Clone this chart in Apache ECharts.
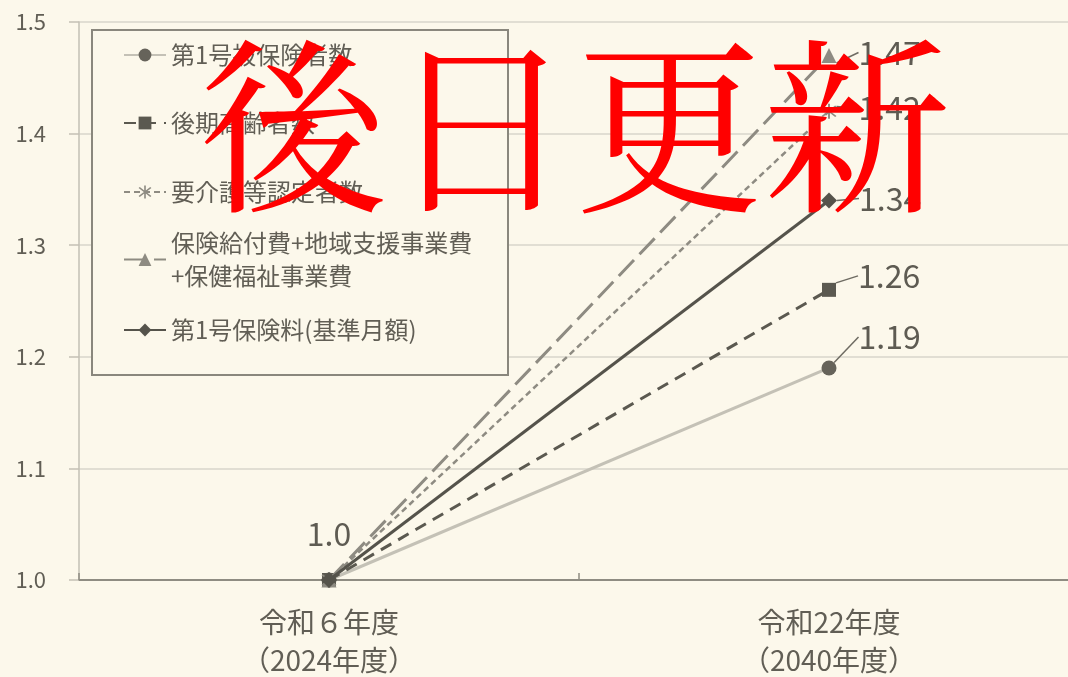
<!DOCTYPE html>
<html>
<head>
<meta charset="utf-8">
<script src="https://cdn.jsdelivr.net/npm/echarts@6/dist/echarts.min.js"></script>
<style>
	html, body { margin: 0; padding: 0; background: #fcf8eb; }
	#main { width: 1068px; height: 677px; }
</style>
</head>
<body>
<div id="main"></div>
<script>
const categories = ['令和６年度\n（2024年度）', '令和22年度\n（2040年度）'];
const seriesNames = [
	'第1号被保険者数',
	'後期高齢者数',
	'要介護等認定者数',
	'保険給付費+地域支援事業費\n+保健福祉事業費',
	'第1号保険料(基準月額)'
];
const hihokenshaSu = [1.0, 1.19];
const kokiKoreishaSu = [1.0, 1.26];
const yokaigoSu = [1.0, 1.42];
const kyufuhi = [1.0, 1.47];
const hokenryo = [1.0, 1.34];
const yTicks = [1.0, 1.1, 1.2, 1.3, 1.4, 1.5];
const overlayText = '後日更新';

var dom = document.getElementById('main');
var myChart = echarts.init(dom, null, { renderer: 'canvas' });

const FONT = '"Noto Sans CJK JP", "Noto Sans", sans-serif';
const textColor = '#615e55';

// asterisk marker
const asterisk = 'path://M-1,-10L1,-10L1,10L-1,10Z M-7.78,-6.36L-6.36,-7.78L7.78,6.36L6.36,7.78Z M6.36,-7.78L7.78,-6.36L-6.36,7.78L-7.78,6.36Z';

function withLabels(values, showStart) {
	return values.map(function (v, i) {
		if (i === values.length - 1) {
			return { value: v, label: { show: true } };
		}
		if (i === 0 && showStart) {
			return {
				value: v,
				label: { show: true, position: 'top', distance: 20, formatter: '1.0' },
				labelLine: { show: false }
			};
		}
		return v;
	});
}

function makeSeries(name, values, opts) {
	return {
		name: name,
		type: 'line',
		data: withLabels(values, opts.showStart),
		symbol: opts.symbol,
		symbolSize: opts.symbolSize,
		z: opts.z,
		lineStyle: { color: opts.color, width: opts.width, type: opts.type },
		itemStyle: { color: opts.markColor || opts.color },
		label: {
			show: false,
			position: 'right',
			distance: 22,
			fontFamily: FONT,
			fontSize: 32,
			color: '#5e5b52',
			formatter: function (p) { return p.value.toFixed(2); }
		},
		labelLayout: { dy: opts.dy },
		labelLine: { show: true, lineStyle: { color: '#6e6b62', width: 1.5 } },
		emphasis: { disabled: true },
		animation: false
	};
}

var legends = [
	{ top: 35, data: [seriesNames[0]] },
	{ top: 103, data: [seriesNames[1]] },
	{ top: 172, data: [seriesNames[2]] },
	{ top: 205, data: [seriesNames[3]], textStyle: { padding: [33, 0, 0, 0], lineHeight: 33 } },
	{ top: 310, data: [seriesNames[4]] }
].map(function (l) {
	return {
		left: 118,
		top: l.top,
		data: l.data,
		itemWidth: 42,
		itemHeight: 16,
		itemGap: 6,
		selectedMode: false,
		textStyle: Object.assign({
			fontFamily: FONT,
			fontSize: 24,
			lineHeight: 30,
			color: textColor
		}, l.textStyle || {})
	};
});

var option = {
	backgroundColor: '#fcf8eb',
	textStyle: { fontFamily: FONT },
	grid: {
		left: 79,
		top: 22,
		width: 1000,
		height: 558,
		outerBoundsMode: 'none',
		containLabel: false
	},
	legend: legends,
	xAxis: {
		type: 'category',
		data: categories,
		boundaryGap: true,
		axisLine: { lineStyle: { color: '#8f8c82', width: 2 } },
		axisTick: { show: true, inside: true, length: 7, lineStyle: { color: '#8f8c82', width: 1.5 } },
		axisLabel: {
			fontFamily: FONT,
			fontSize: 28,
			lineHeight: 38,
			margin: 23,
			color: textColor
		}
	},
	yAxis: {
		type: 'value',
		min: yTicks[0],
		max: yTicks[yTicks.length - 1],
		interval: 0.1,
		axisLine: { show: true, lineStyle: { color: '#c3c0b5', width: 1.5 } },
		axisTick: { show: true, length: 10, lineStyle: { color: '#c3c0b5', width: 1.5 } },
		splitLine: { lineStyle: { color: '#d9d6cb', width: 1.5 } },
		axisLabel: {
			fontFamily: FONT,
			fontSize: 22,
			margin: 33,
			color: textColor,
			formatter: function (v) { return v.toFixed(1); }
		}
	},
	graphic: [
		{
			type: 'rect',
			shape: { x: 92, y: 30, width: 416, height: 345 },
			style: { fill: '#fcf8eb', stroke: '#8a877d', lineWidth: 2 },
			z: 1
		},
		{
			type: 'text',
			x: 575,
			y: 126,
			z: 100,
			style: {
				text: overlayText,
				font: 'normal 188px "Noto Serif CJK JP", "Noto Sans CJK JP", serif',
				fill: '#ff0000',
				align: 'center',
				verticalAlign: 'middle'
			}
		}
	],
	series: [
		makeSeries(seriesNames[0], hihokenshaSu, { color: '#c4c1b6', markColor: '#66635a', width: 3, type: 'solid', symbol: 'circle', symbolSize: 15, dy: -31, z: 2 }),
		makeSeries(seriesNames[1], kokiKoreishaSu, { color: '#5b5950', width: 3, type: [12, 8], symbol: 'rect', symbolSize: 14, dy: -14, z: 3 }),
		makeSeries(seriesNames[2], yokaigoSu, { color: '#8e8b82', width: 2.5, type: [6, 4], symbol: asterisk, symbolSize: 15, dy: -3, z: 4 }),
		makeSeries(seriesNames[3], kyufuhi, { color: '#8e8b82', width: 3, type: [22, 8], symbol: 'triangle', symbolSize: 15, dy: -3, z: 5 }),
		makeSeries(seriesNames[4], hokenryo, { color: '#55534b', width: 3, type: 'solid', symbol: 'diamond', symbolSize: 16, dy: -2, z: 6, showStart: true })
	]
};

if (option && typeof option === 'object') {
	myChart.setOption(option);
}

window.addEventListener('resize', myChart.resize);
</script>
</body>
</html>
